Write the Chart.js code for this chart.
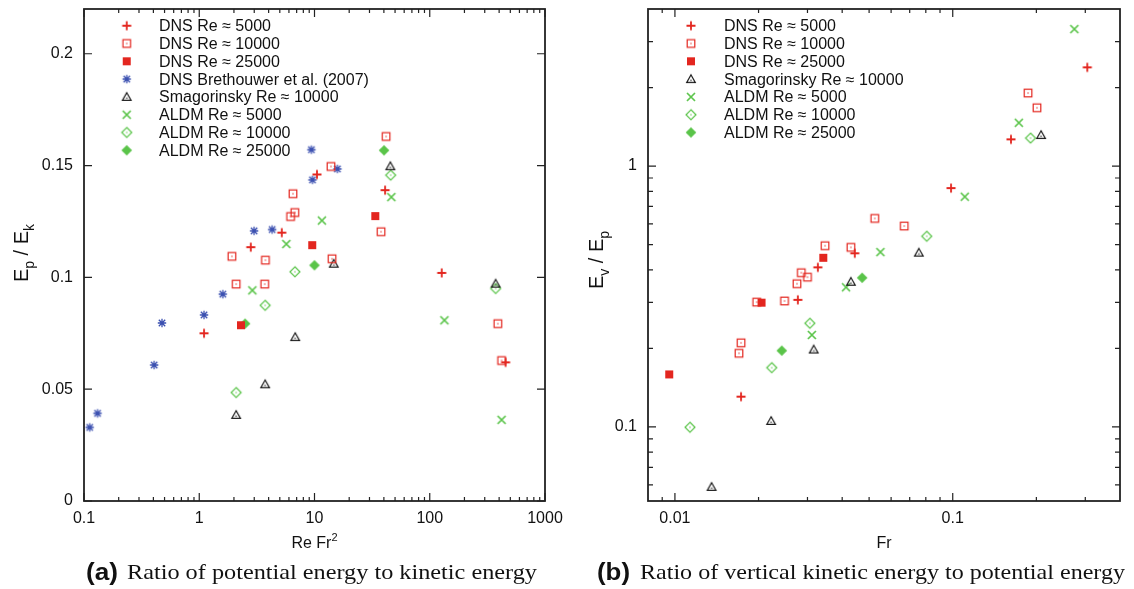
<!DOCTYPE html>
<html>
<head>
<meta charset="utf-8">
<script src="https://cdn.jsdelivr.net/npm/chart.js@4.4.0/dist/chart.umd.min.js"></script>
<style>
  html, body { margin: 0; padding: 0; background: #fff; }
  #page { position: relative; width: 1134px; height: 589px; overflow: hidden; background: #fff; }
  .panel { position: absolute; top: 0; width: 567px; height: 560px; }
  #panelA { left: 0; }
  #panelB { left: 567px; }
  .cap { position: absolute; white-space: nowrap; color: #111; line-height: 1; transform-origin: 0 0; }
  .cap-tag { font-family: "Liberation Sans", Arial, sans-serif; font-weight: bold; font-size: 24px; top: 560px; }
  .cap-txt { font-family: "Liberation Serif", "Times New Roman", serif; font-size: 22px; top: 561px; }
</style>
</head>
<body>
<div id="page">
  <div class="panel" id="panelA"><canvas id="chartA" width="567" height="560"></canvas></div>
  <div class="panel" id="panelB"><canvas id="chartB" width="567" height="560"></canvas></div>
  <span class="cap cap-tag" id="tagA" style="left:86px">(a)</span>
  <span class="cap cap-txt" id="txtA" style="left:127px">Ratio of potential energy to kinetic energy</span>
  <span class="cap cap-tag" id="tagB" style="left:597px">(b)</span>
  <span class="cap cap-txt" id="txtB" style="left:640px">Ratio of vertical kinetic energy to potential energy</span>
</div>
<script>
  // ---- (a) Ep/Ek against Re Fr^2, pairs of [Re Fr^2, Ep/Ek] ----
  const aDns5000 = [[1.1, 0.075], [2.8, 0.1135], [5.2, 0.120], [10.5, 0.146], [41, 0.139], [127, 0.102], [455, 0.062]];
  const aDns10000 = [[1.92, 0.1094], [2.09, 0.097], [3.75, 0.1077], [3.7, 0.097], [6.5, 0.1374], [6.75, 0.129],
    [6.2, 0.1272], [13.9, 0.1496], [14.2, 0.1083], [41.8, 0.163], [37.8, 0.1204], [390, 0.0793], [420, 0.0628]];
  const aDns25000 = [[2.3, 0.0786], [9.55, 0.1144], [33.7, 0.1274]];
  const aBrethouwer = [[0.112, 0.0329], [0.131, 0.0392], [0.406, 0.0608], [0.475, 0.0796], [1.1, 0.0832], [1.6, 0.0925],
    [2.99, 0.1208], [4.29, 0.1214], [9.6, 0.1436], [9.4, 0.1571], [15.8, 0.1485]];
  const aSmag10000 = [[2.09, 0.0385], [3.73, 0.0522], [6.8, 0.0733], [14.7, 0.1061], [45.5, 0.1497], [373, 0.0972]];
  const aAldm5000 = [[2.89, 0.0942], [5.7, 0.1149], [11.6, 0.1254], [46.4, 0.1359], [134, 0.0808], [420, 0.0363]];
  const aAldm10000 = [[2.09, 0.0485], [3.73, 0.0875], [6.76, 0.1025], [45.8, 0.1457], [373, 0.095]];
  const aAldm25000 = [[2.5, 0.0793], [10, 0.1054], [40.1, 0.1568]];

  // ---- (b) Ev/Ep against Fr, pairs of [Fr, Ev/Ep] ----
  const bDns5000 = [[0.0173, 0.1306], [0.0277, 0.307], [0.0327, 0.409], [0.0444, 0.463], [0.0986, 0.823], [0.162, 1.266], [0.305, 2.39]];
  const bDns10000 = [[0.0170, 0.1915], [0.0173, 0.210], [0.0197, 0.301], [0.0248, 0.304], [0.0275, 0.354], [0.0285, 0.390],
    [0.0300, 0.375], [0.0347, 0.495], [0.0430, 0.488], [0.0524, 0.630], [0.0669, 0.589], [0.1866, 1.905], [0.201, 1.673]];
  const bDns25000 = [[0.00954, 0.159], [0.0205, 0.2995], [0.0342, 0.445]];
  const bSmag10000 = [[0.01355, 0.0589], [0.0222, 0.1054], [0.0316, 0.198], [0.043, 0.360], [0.0755, 0.4655], [0.208, 1.315]];
  const bAldm5000 = [[0.0311, 0.2252], [0.0413, 0.343], [0.0549, 0.468], [0.1105, 0.763], [0.173, 1.465], [0.274, 3.35]];
  const bAldm10000 = [[0.01133, 0.0997], [0.0223, 0.1687], [0.0306, 0.2496], [0.0806, 0.538], [0.1906, 1.28]];
  const bAldm25000 = [[0.02425, 0.196], [0.0472, 0.373]];

  // series names
  const nameDns5000 = 'DNS Re \u2248 5000';
  const nameDns10000 = 'DNS Re \u2248 10000';
  const nameDns25000 = 'DNS Re \u2248 25000';
  const nameBrethouwer = 'DNS Brethouwer et al. (2007)';
  const nameSmag10000 = 'Smagorinsky Re \u2248 10000';
  const nameAldm5000 = 'ALDM Re \u2248 5000';
  const nameAldm10000 = 'ALDM Re \u2248 10000';
  const nameAldm25000 = 'ALDM Re \u2248 25000';

  // tick values and labels
  const aXTicks = [0.1, 1, 10, 100, 1000];
  const aXLabels = ['0.1', '1', '10', '100', '1000'];
  const aYTicks = [0, 0.05, 0.1, 0.15, 0.2];
  const aYLabels = ['0', '0.05', '0.1', '0.15', '0.2'];
  const bXTicks = [0.01, 0.1];
  const bXLabels = ['0.01', '0.1'];
  const bYTicks = [0.1, 1];
  const bYLabels = ['0.1', '1'];

  const FONT = '"Liberation Sans", Arial, Helvetica, sans-serif';
  const RED = '#e3261f';
  const GREEN = '#5ac449';
  const BLUE = '#3a4fb0';
  const BLACK = '#1a1a1a';
  const AXIS = '#222';

  // little gnuplot-like point symbols drawn onto offscreen canvases
  function makeMarker(kind, color) {
    const c = document.createElement('canvas');
    c.width = 14; c.height = 14;
    const g = c.getContext('2d');
    g.translate(7, 7);
    g.strokeStyle = color;
    g.fillStyle = color;
    g.lineWidth = 1.3;
    g.beginPath();
    if (kind === 'plus') {
      g.lineWidth = 1.8;
      g.moveTo(-4.5, 0); g.lineTo(4.5, 0);
      g.moveTo(0, -4.5); g.lineTo(0, 4.5);
      g.stroke();
    } else if (kind === 'cross') {
      g.lineWidth = 1.7;
      g.moveTo(-4, -4); g.lineTo(4, 4);
      g.moveTo(-4, 4); g.lineTo(4, -4);
      g.stroke();
    } else if (kind === 'star') {
      g.lineWidth = 1.3;
      g.moveTo(-4.2, 0); g.lineTo(4.2, 0);
      g.moveTo(0, -4.2); g.lineTo(0, 4.2);
      g.moveTo(-3.2, -3.2); g.lineTo(3.2, 3.2);
      g.moveTo(-3.2, 3.2); g.lineTo(3.2, -3.2);
      g.stroke();
    } else if (kind === 'square') {
      g.lineWidth = 1.2;
      g.strokeRect(-3.8, -3.8, 7.6, 7.6);
      g.fillRect(-0.6, -0.6, 1.2, 1.2);
    } else if (kind === 'squareFill') {
      g.fillRect(-4, -4, 8, 8);
    } else if (kind === 'triangle') {
      g.lineWidth = 1.2;
      g.moveTo(0, -4.2); g.lineTo(4.3, 3.4); g.lineTo(-4.3, 3.4); g.closePath();
      g.stroke();
      g.fillRect(-0.6, 0.6, 1.2, 1.2);
    } else if (kind === 'diamond') {
      g.lineWidth = 1.2;
      g.moveTo(0, -5); g.lineTo(5, 0); g.lineTo(0, 5); g.lineTo(-5, 0); g.closePath();
      g.stroke();
      g.fillRect(-0.6, -0.6, 1.2, 1.2);
    } else if (kind === 'diamondFill') {
      g.moveTo(0, -5.3); g.lineTo(5.3, 0); g.lineTo(0, 5.3); g.lineTo(-5.3, 0); g.closePath();
      g.fill();
    }
    return c;
  }

  const mk = {
    dns5000: makeMarker('plus', RED),
    dns10000: makeMarker('square', RED),
    dns25000: makeMarker('squareFill', RED),
    brethouwer: makeMarker('star', BLUE),
    smag: makeMarker('triangle', BLACK),
    aldm5000: makeMarker('cross', GREEN),
    aldm10000: makeMarker('diamond', GREEN),
    aldm25000: makeMarker('diamondFill', GREEN)
  };

  function series(label, pairs, marker) {
    return {
      label: label,
      data: pairs.map(p => ({ x: p[0], y: p[1] })),
      pointStyle: marker,
      pointRadius: 5,
      pointHoverRadius: 5,
      showLine: false
    };
  }

  // minor tick values (2..9 x 10^k) that fall inside a log range
  function logMinors(min, max) {
    const out = [];
    for (let e = Math.floor(Math.log10(min)); e <= Math.ceil(Math.log10(max)); e++) {
      for (let m = 2; m <= 9; m++) {
        const v = m * Math.pow(10, e);
        if (v >= min * 0.999 && v <= max * 1.001) out.push(v);
      }
    }
    return out;
  }

  // text with sub/superscript pieces, centred on (cx) along its own direction
  function drawRich(ctx, parts, cx, baseY, size, rotate) {
    ctx.save();
    ctx.translate(cx, baseY);
    if (rotate) ctx.rotate(-Math.PI / 2);
    ctx.fillStyle = '#111';
    ctx.textBaseline = 'alphabetic';
    ctx.textAlign = 'left';
    const small = Math.round(size * 0.7);
    let total = 0;
    parts.forEach(p => {
      ctx.font = (p.sub || p.sup ? small : size) + 'px ' + FONT;
      p.w = ctx.measureText(p.t).width;
      total += p.w;
    });
    let x = -total / 2;
    parts.forEach(p => {
      ctx.font = (p.sub || p.sup ? small : size) + 'px ' + FONT;
      const dy = p.sub ? size * 0.3 : (p.sup ? -size * 0.42 : 0);
      ctx.fillText(p.t, x, dy);
      x += p.w;
    });
    ctx.restore();
  }

  // frame, inward ticks on all sides, legend and axis titles
  const decor = {
    id: 'decor',
    afterDraw(chart, args, o) {
      const ctx = chart.ctx;
      const a = chart.chartArea;
      const sx = chart.scales.x;
      const sy = chart.scales.y;
      ctx.save();
      ctx.strokeStyle = AXIS;
      ctx.lineWidth = 1.2;
      ctx.beginPath();
      const vtick = (v, len) => {
        const p = sx.getPixelForValue(v);
        ctx.moveTo(p, a.bottom); ctx.lineTo(p, a.bottom - len);
        ctx.moveTo(p, a.top); ctx.lineTo(p, a.top + len);
      };
      const htick = (v, len) => {
        const p = sy.getPixelForValue(v);
        ctx.moveTo(a.left, p); ctx.lineTo(a.left + len, p);
        ctx.moveTo(a.right, p); ctx.lineTo(a.right - len, p);
      };
      o.xMajor.forEach(v => vtick(v, 8));
      o.xMinor.forEach(v => vtick(v, 4));
      o.yMajor.forEach(v => htick(v, 8));
      o.yMinor.forEach(v => htick(v, 5));
      ctx.stroke();

      ctx.lineWidth = 1.8;
      ctx.strokeRect(a.left, a.top, a.right - a.left, a.bottom - a.top);

      // legend
      ctx.font = '16px ' + FONT;
      ctx.fillStyle = '#111';
      ctx.textBaseline = 'middle';
      ctx.textAlign = 'left';
      chart.data.datasets.forEach((ds, i) => {
        const y = o.legendTop + i * o.legendStep;
        const img = ds.pointStyle;
        ctx.drawImage(img, o.legendMarkX - img.width / 2, y - img.height / 2);
        ctx.fillText(ds.label, o.legendTextX, y + 1);
      });
      ctx.restore();

      drawRich(ctx, o.xTitle, (a.left + a.right) / 2, o.xTitleBase, 16, false);
      drawRich(ctx, o.yTitle, o.yTitleBase, o.yTitleMid, 20, true);
    }
  };

  // keep the plot box exactly where the layout padding puts it
  function noEdgePadding(s) {
    s.paddingTop = 0;
    s.paddingBottom = 0;
    s.paddingLeft = 0;
    s.paddingRight = 0;
  }

  function axisX(type, min, max, ticks, labels) {
    return {
      type: type, min: min, max: max,
      grid: { display: false, drawTicks: false },
      border: { display: false },
      ticks: {
        autoSkip: false, maxRotation: 0, padding: 8, color: '#111',
        font: { family: FONT, size: 16 },
        callback: (v, i) => labels[i]
      },
      afterBuildTicks: s => { s.ticks = ticks.map(v => ({ value: v })); },
      afterFit: s => { s.height = 59; noEdgePadding(s); }
    };
  }

  function axisY(type, min, max, ticks, labels, width) {
    return {
      type: type, min: min, max: max,
      grid: { display: false, drawTicks: false },
      border: { display: false },
      ticks: {
        autoSkip: false, padding: 11, color: '#111',
        font: { family: FONT, size: 16 },
        callback: (v, i) => labels[i]
      },
      afterBuildTicks: s => { s.ticks = ticks.map(v => ({ value: v })); },
      afterFit: s => { s.width = width; noEdgePadding(s); }
    };
  }

  function baseOptions(padRight, xs, ys, decorOpts) {
    return {
      responsive: false,
      animation: false,
      devicePixelRatio: 1,
      layout: { padding: { left: 0, right: padRight, top: 9, bottom: 0 } },
      plugins: { legend: { display: false }, tooltip: { enabled: false }, decor: decorOpts },
      scales: { x: xs, y: ys }
    };
  }

  new Chart(document.getElementById('chartA'), {
    type: 'scatter',
    data: {
      datasets: [
        series(nameDns5000, aDns5000, mk.dns5000),
        series(nameDns10000, aDns10000, mk.dns10000),
        series(nameDns25000, aDns25000, mk.dns25000),
        series(nameBrethouwer, aBrethouwer, mk.brethouwer),
        series(nameSmag10000, aSmag10000, mk.smag),
        series(nameAldm5000, aAldm5000, mk.aldm5000),
        series(nameAldm10000, aAldm10000, mk.aldm10000),
        series(nameAldm25000, aAldm25000, mk.aldm25000)
      ]
    },
    options: baseOptions(22,
      axisX('logarithmic', 0.1, 1000, aXTicks, aXLabels),
      axisY('linear', 0, 0.22, aYTicks, aYLabels, 84),
      {
        xMajor: aXTicks, xMinor: logMinors(0.1, 1000), yMajor: aYTicks, yMinor: [],
        legendTop: 25.7, legendStep: 17.8, legendMarkX: 126.7, legendTextX: 159,
        xTitle: [{ t: 'Re Fr' }, { t: '2', sup: true }], xTitleBase: 548,
        yTitle: [{ t: 'E' }, { t: 'p', sub: true }, { t: ' / E' }, { t: 'k', sub: true }],
        yTitleBase: 28, yTitleMid: 253
      }),
    plugins: [decor]
  });

  new Chart(document.getElementById('chartB'), {
    type: 'scatter',
    data: {
      datasets: [
        series(nameDns5000, bDns5000, mk.dns5000),
        series(nameDns10000, bDns10000, mk.dns10000),
        series(nameDns25000, bDns25000, mk.dns25000),
        series(nameSmag10000, bSmag10000, mk.smag),
        series(nameAldm5000, bAldm5000, mk.aldm5000),
        series(nameAldm10000, bAldm10000, mk.aldm10000),
        series(nameAldm25000, bAldm25000, mk.aldm25000)
      ]
    },
    options: baseOptions(14,
      axisX('logarithmic', 0.008, 0.4, bXTicks, bXLabels),
      axisY('logarithmic', 0.052, 4, bYTicks, bYLabels, 81),
      {
        xMajor: bXTicks, xMinor: logMinors(0.008, 0.4).filter(v => v > 0.0081 && v < 0.399),
        yMajor: bYTicks, yMinor: logMinors(0.052, 4).filter(v => v < 3.99),
        legendTop: 25.7, legendStep: 17.8, legendMarkX: 124, legendTextX: 157,
        xTitle: [{ t: 'Fr' }], xTitleBase: 548,
        yTitle: [{ t: 'E' }, { t: 'v', sub: true }, { t: ' / E' }, { t: 'p', sub: true }],
        yTitleBase: 36, yTitleMid: 260
      }),
    plugins: [decor]
  });

  // stretch caption pieces to their set widths
  function fitWidth(id, width) {
    const el = document.getElementById(id);
    const w = el.getBoundingClientRect().width;
    if (w > 0) el.style.transform = 'scaleX(' + (width / w) + ')';
  }
  fitWidth('tagA', 32);
  fitWidth('txtA', 410);
  fitWidth('tagB', 33);
  fitWidth('txtB', 485);
</script>
</body>
</html>
